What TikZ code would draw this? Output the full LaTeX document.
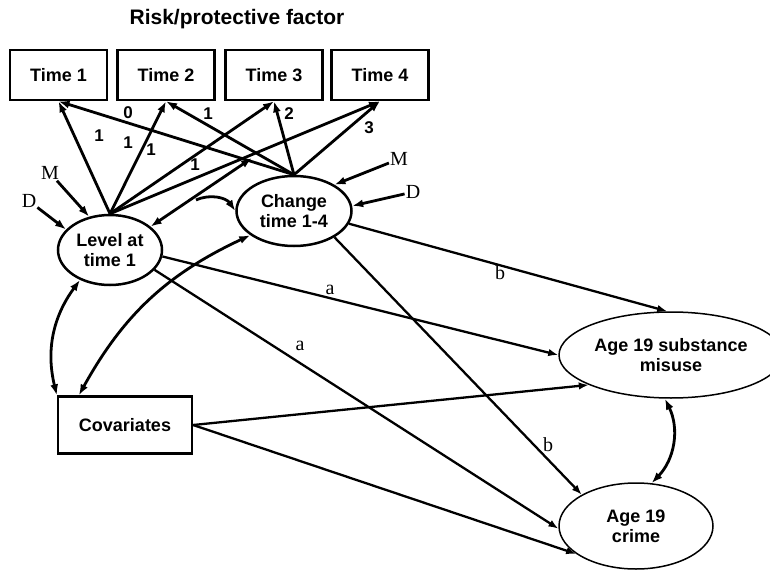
\documentclass[tikz,border=0pt]{standalone}
\usepackage{fontspec}
\setmainfont{Liberation Sans}
\newfontfamily\serifrm{Liberation Serif}
\usetikzlibrary{arrows.meta,shapes.geometric}

\tikzset{
    arr/.style={-{Latex[length=11pt,width=8pt]}, line width=2.8pt},
    dblarr/.style={{Latex[length=11pt,width=8pt]}-{Latex[length=11pt,width=8pt]}, line width=2.8pt},
    regr/.style={-{Latex[length=10pt,width=7.5pt]}, line width=2.3pt},
    timebox/.style={draw, line width=2.5pt, minimum width=97pt, minimum height=50pt,
                    inner sep=0pt, font=\fontsize{18}{20}\selectfont\bfseries},
    covbox/.style={draw, line width=2.3pt, minimum width=134pt, minimum height=57pt,
                   inner sep=0pt, font=\fontsize{18}{20}\selectfont\bfseries},
    factor/.style={draw, ellipse, line width=2.5pt, inner sep=0pt, align=center,
                   font=\fontsize{18}{20}\selectfont\bfseries},
    outcome/.style={draw, ellipse, line width=1.5pt, inner sep=0pt, align=center,
                    font=\fontsize{18}{20}\selectfont\bfseries},
    lbl/.style={font=\fontsize{17}{17}\selectfont\bfseries, inner sep=1pt},
    src/.style={font=\serifrm\fontsize{20}{20}\selectfont, inner sep=1pt},
}

\begin{document}
\begin{tikzpicture}[x=1pt, y=-1pt]
    % Page
    \useasboundingbox (0,0) rectangle (770,572);
    \clip (0,0) rectangle (770,572);

    % Title
    \node[font=\fontsize{21}{24}\selectfont\bfseries] (title) at (237,19) {Risk/protective factor};

    % Time boxes
    \foreach \i/\x in {1/58.5,2/166,3/274,4/380}
        \node[timebox] (t\i) at (\x,75) {Time \i};

    % Growth factors
    \node[factor, minimum width=104pt, minimum height=70pt] (lev) at (110,250) {Level at\\time 1};
    \node[factor, minimum width=115pt, minimum height=70pt] (chg) at (294,211) {Change\\time 1-4};

    % Covariates and outcomes
    \node[covbox] (cov) at (125,425) {Covariates};
    \node[outcome, minimum width=224pt, minimum height=86pt] (sub) at (671,355) {Age 19 substance\\misuse};
    \node[outcome, minimum width=154pt, minimum height=86pt] (crm) at (636,526) {Age 19\\crime};

    % M and D
    \node[src] (mlev) at (50,173) {M};
    \node[src] (dlev) at (29,201) {D};
    \node[src] (mchg) at (399,159) {M};
    \node[src] (dchg) at (413,192) {D};
    \draw[arr] (mlev) -- (lev.122);
    \draw[arr] (dlev) -- (lev.155);
    \draw[arr] (mchg) -- (chg.33);
    \draw[arr] (dchg) -- (chg.5);

    % Loadings
    \foreach \i in {1,...,4} \draw[arr] (lev.north) -- (t\i.south);
    \foreach \i in {1,...,4} \draw[arr] (chg.north) -- (t\i.south);
    \foreach \x/\y [count=\k] in {99/136,128/143,151/150,195/165}
        \node[lbl] (ll\k) at (\x,\y) {1};
    \foreach \x/\y/\v in {128/113/0,208/114/1,289/114/2,369/128/3}
        \node[lbl] (cl\v) at (\x,\y) {\v};

    % Level and change
    \coordinate (lcstart) at (196,200);
    \coordinate (lcend) at (252,158);
    \draw[arr] (lcstart) to[bend left=40] (chg.west);
    \draw[dblarr] (lev.30) -- (lcend);

    % Covariances
    \draw[dblarr] (lev.225) to[bend right=25] (cov.north west);
    \draw[dblarr] (chg.209) to[bend right=18] ([xshift=22pt]cov.north west);
    \draw[dblarr] (sub.262) to[bend left=35] (crm.70);

    % Paths to outcomes
    \draw[regr] (lev.-7) -- (sub.west);
    \draw[regr] (lev.-24) -- (crm.182);
    \draw[regr] (chg.-13) -- (sub.95);
    \draw[regr] (chg.-33) -- (crm.150);
    \draw[regr] (cov.east) -- (sub.200);
    \draw[regr] (cov.east) -- (crm.205);
    \node[src] (a1) at (330,290) {a};
    \node[src] (a2) at (300,346) {a};
    \node[src] (b1) at (500,273) {b};
    \node[src] (b2) at (548,445) {b};

\end{tikzpicture}
\end{document}
